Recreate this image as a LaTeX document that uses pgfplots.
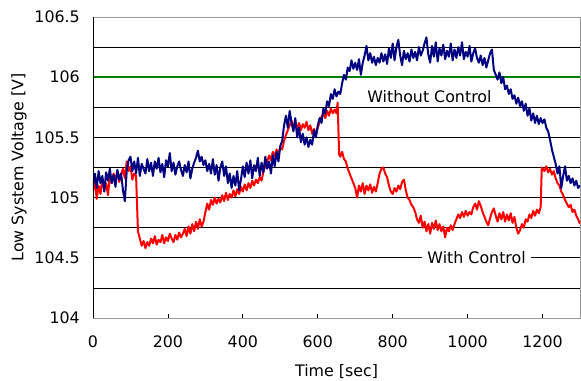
\documentclass[border=0pt]{standalone}
\usepackage{pgfplots}
\usepackage{pgfplotstable}
\pgfplotsset{compat=1.18}
\usepackage{fontspec}
\setmainfont{DejaVu Sans}
\definecolor{navyc}{RGB}{0,0,128}
\definecolor{redc}{RGB}{255,0,0}
\definecolor{greenc}{RGB}{0,128,0}
\newcommand{\ff}{\fontsize{15.9}{18}\selectfont}

\pgfplotstableread{
t v
0 105.10
5 105.20
10 105.08
15 105.22
20 105.12
25 105.18
30 105.05
35 105.21
40 105.14
45 105.24
50 105.12
55 105.19
60 105.09
65 105.23
70 105.15
75 105.20
80 105.06
85 104.97
90 105.22
95 105.31
100 105.34
105 105.22
110 105.30
115 105.20
120 105.33
125 105.18
130 105.28
135 105.24
140 105.20
145 105.32
150 105.22
155 105.29
160 105.18
165 105.30
170 105.24
175 105.33
180 105.21
185 105.28
190 105.17
195 105.31
200 105.26
205 105.37
210 105.22
215 105.29
220 105.19
225 105.26
230 105.30
235 105.23
240 105.18
245 105.27
250 105.21
255 105.30
260 105.16
265 105.24
270 105.29
275 105.33
280 105.39
285 105.30
290 105.34
295 105.27
300 105.31
305 105.22
310 105.28
315 105.20
320 105.32
325 105.19
330 105.27
335 105.14
340 105.25
345 105.30
350 105.18
355 105.26
360 105.12
365 105.20
370 105.08
375 105.18
380 105.10
385 105.22
390 105.06
395 105.15
400 105.26
405 105.17
410 105.29
415 105.20
420 105.31
425 105.16
430 105.27
435 105.22
440 105.33
445 105.18
450 105.29
455 105.21
460 105.34
465 105.24
470 105.30
475 105.20
480 105.35
485 105.26
490 105.38
495 105.30
500 105.43
505 105.47
510 105.60
515 105.68
520 105.58
525 105.72
530 105.62
535 105.55
540 105.66
545 105.50
550 105.58
555 105.46
560 105.53
565 105.44
570 105.50
575 105.42
580 105.48
585 105.44
590 105.56
595 105.50
600 105.60
605 105.66
610 105.62
615 105.74
620 105.70
625 105.80
630 105.76
635 105.86
640 105.82
645 105.90
650 105.84
655 105.88
660 105.86
665 105.95
670 106.02
675 105.98
680 106.08
685 106.05
690 106.14
695 106.07
700 106.12
705 106.06
710 106.15
715 106.02
720 106.12
725 106.18
730 106.26
735 106.14
740 106.20
745 106.12
750 106.17
755 106.10
760 106.16
765 106.12
770 106.20
775 106.13
780 106.19
785 106.11
790 106.24
795 106.16
800 106.28
805 106.14
810 106.25
815 106.31
820 106.18
825 106.10
830 106.22
835 106.15
840 106.20
845 106.13
850 106.23
855 106.16
860 106.21
865 106.14
870 106.25
875 106.18
880 106.22
885 106.28
890 106.33
895 106.19
900 106.12
905 106.26
910 106.17
915 106.29
920 106.13
925 106.24
930 106.18
935 106.27
940 106.15
945 106.22
950 106.17
955 106.28
960 106.14
965 106.23
970 106.16
975 106.25
980 106.18
985 106.29
990 106.15
995 106.21
1000 106.17
1005 106.26
1010 106.13
1015 106.20
1020 106.24
1025 106.16
1030 106.12
1035 106.18
1040 106.10
1045 106.16
1050 106.08
1055 106.14
1060 106.20
1065 106.23
1070 106.06
1075 106.02
1080 105.98
1085 106.04
1090 105.95
1095 106.00
1100 105.90
1105 105.93
1110 105.86
1115 105.90
1120 105.82
1125 105.85
1130 105.78
1135 105.83
1140 105.76
1145 105.80
1150 105.72
1155 105.78
1160 105.68
1165 105.74
1170 105.64
1175 105.70
1180 105.62
1185 105.68
1190 105.61
1195 105.66
1200 105.62
1205 105.65
1210 105.58
1215 105.55
1220 105.48
1225 105.40
1230 105.34
1235 105.28
1240 105.20
1245 105.26
1250 105.08
1255 105.18
1260 105.26
1265 105.14
1270 105.18
1275 105.12
1280 105.16
1285 105.10
1290 105.14
1295 105.08
1300 105.10
}\without

\pgfplotstableread{
t v
0 105.05
5 105.14
10 104.99
15 105.10
20 105.03
25 105.16
30 105.06
35 105.12
40 105.02
45 105.18
50 105.12
55 105.20
60 105.14
65 105.22
70 105.13
75 105.19
80 105.24
85 105.16
90 105.30
95 105.22
100 105.26
105 105.15
110 105.20
115 105.18
120 104.72
125 104.66
130 104.60
135 104.64
140 104.58
145 104.63
150 104.60
155 104.66
160 104.62
165 104.68
170 104.61
175 104.65
180 104.63
185 104.69
190 104.62
195 104.67
200 104.64
205 104.70
210 104.66
215 104.63
220 104.69
225 104.65
230 104.71
235 104.67
240 104.70
245 104.74
250 104.68
255 104.76
260 104.70
265 104.78
270 104.72
275 104.80
280 104.74
285 104.82
290 104.76
295 104.80
300 104.88
305 104.95
310 104.90
315 104.98
320 104.94
325 105.00
330 104.95
335 104.99
340 104.96
345 105.02
350 104.97
355 105.04
360 104.98
365 105.03
370 105.00
375 105.06
380 105.01
385 105.07
390 105.03
395 105.09
400 105.05
405 105.11
410 105.06
415 105.12
420 105.08
425 105.14
430 105.10
435 105.15
440 105.12
445 105.17
450 105.14
455 105.22
460 105.26
465 105.30
470 105.35
475 105.31
480 105.38
485 105.34
490 105.40
495 105.36
500 105.42
505 105.40
510 105.47
515 105.52
520 105.56
525 105.60
530 105.64
535 105.58
540 105.63
545 105.57
550 105.62
555 105.56
560 105.61
565 105.58
570 105.63
575 105.56
580 105.60
585 105.53
590 105.57
595 105.52
600 105.58
605 105.63
610 105.67
615 105.70
620 105.66
625 105.72
630 105.68
635 105.74
640 105.70
645 105.73
650 105.70
653 105.79
657 105.36
660 105.34
665 105.38
670 105.32
675 105.30
680 105.24
685 105.20
690 105.16
695 105.12
700 105.08
705 105.00
710 105.10
715 105.05
720 105.12
725 105.03
730 105.10
735 105.06
740 105.11
745 105.04
750 105.09
755 105.05
760 105.12
765 105.20
770 105.24
775 105.25
780 105.20
785 105.17
790 105.10
795 105.05
800 105.03
805 105.08
810 105.05
815 105.10
820 105.07
825 105.13
830 105.15
835 105.06
840 105.00
845 104.98
850 104.94
855 104.92
860 104.88
865 104.82
870 104.79
875 104.85
880 104.75
885 104.80
890 104.72
895 104.78
900 104.70
905 104.79
910 104.74
915 104.81
920 104.73
925 104.78
930 104.72
935 104.76
940 104.67
945 104.75
950 104.72
955 104.77
960 104.73
965 104.78
970 104.82
975 104.86
980 104.83
985 104.88
990 104.84
995 104.89
1000 104.85
1005 104.88
1010 104.86
1015 104.92
1020 104.95
1025 104.90
1030 104.97
1035 104.93
1040 104.88
1045 104.84
1050 104.80
1055 104.77
1060 104.83
1065 104.88
1070 104.91
1075 104.85
1080 104.80
1085 104.87
1090 104.82
1095 104.88
1100 104.80
1105 104.86
1110 104.81
1115 104.87
1120 104.79
1125 104.84
1130 104.75
1135 104.70
1140 104.73
1145 104.78
1150 104.75
1155 104.82
1160 104.80
1165 104.86
1170 104.83
1175 104.89
1180 104.85
1185 104.90
1190 104.87
1195 104.92
1198 105.25
1205 105.22
1210 105.26
1215 105.21
1220 105.24
1225 105.19
1230 105.22
1235 105.16
1240 105.12
1245 105.10
1250 105.05
1255 105.02
1260 104.98
1265 104.95
1270 104.92
1275 104.94
1280 104.88
1285 104.90
1290 104.85
1295 104.82
1300 104.78
}\withc

\begin{document}
\begin{tikzpicture}
\begin{axis}[
  scale only axis,
  width=487bp, height=301bp,
  xmin=0, xmax=1300, ymin=104, ymax=106.5,
  xtick={0,200,...,1200},
  ytick={104,104.5,105,105.5,106,106.5},
  minor ytick={104.25,104.75,105.25,105.75,106.25},
  ymajorgrids, yminorgrids,
  major grid style={black, line width=0.8bp},
  minor grid style={black, line width=0.8bp},
  xtick pos=bottom, tick align=inside,
  major tick length=4bp,
  minor tick length=0pt,
  ytick style={draw=none},
  xtick style={black, line width=0.8bp},
  axis line style={gray!80, line width=0.9bp},
  /pgf/number format/assume math mode=true,
  /pgf/number format/1000 sep={},
  yticklabel style={font=\ff, anchor=east, inner sep=0pt, xshift=-13bp},
  xticklabel style={font=\ff, anchor=north, inner sep=0pt, yshift=-18bp},
  xlabel={Time [sec]},
  ylabel={Low System Voltage [V]},
  xlabel style={font=\ff, at={(axis description cs:0.5,-0.179)}, anchor=center},
  ylabel style={font=\ff, at={(axis description cs:-0.152,0.5)}, anchor=center},
  clip=true,
]
\addplot[greenc, line width=1.6bp] coordinates {(0,106) (1300,106)};
\addplot[redc, line width=2bp, line join=round] table[x=t, y=v] {\withc};
\addplot[navyc, line width=2bp, line join=round] table[x=t, y=v] {\without};
\node[font=\ff, inner sep=0pt] at (axis cs:898,105.84) {Without Control};
\node[font=\ff, fill=white, inner xsep=5bp, inner ysep=1bp] at (axis cs:1024,104.5) {With Control};
\draw[black, line width=0.9bp] (rel axis cs:0,0) -- (rel axis cs:0,1);
\end{axis}
\pgfresetboundingbox
\path[use as bounding box] ([xshift=-93bp,yshift=-63bp]current axis.south west) rectangle ([xshift=1bp,yshift=17bp]current axis.north east);
\end{tikzpicture}
\end{document}
